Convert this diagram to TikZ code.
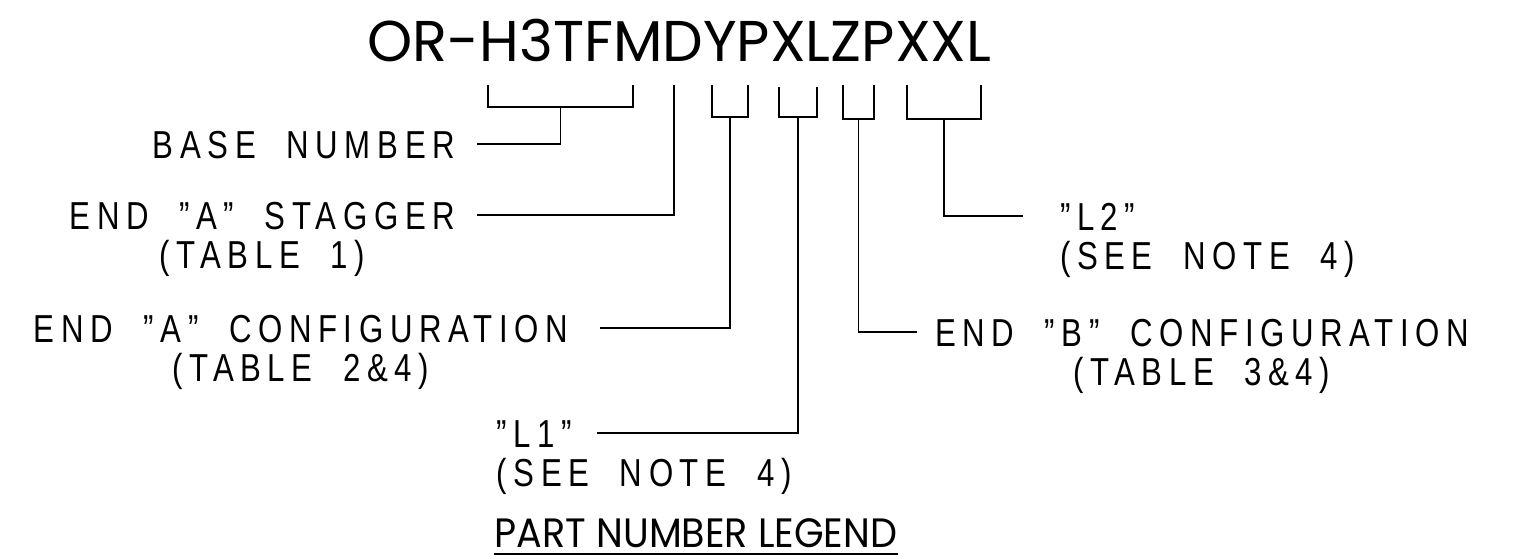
\documentclass[tikz,border=0pt]{standalone}
\usepackage{fontspec}
\setmainfont{Liberation Sans}
\newfontfamily\isofont[FakeStretch=0.8,LetterSpace=17,WordSpace=2]{Liberation Sans}
\newfontfamily\gothfont{Poppins}
\newfontfamily\gothnarrow[FakeStretch=0.93]{Poppins}
\usetikzlibrary{positioning}

\begin{document}
\begin{tikzpicture}[x=1pt, y=-1pt, line width=1.6pt]

% ---- Define Styles ----
\tikzset{
  lbltext/.style={
    font=\isofont\fontsize{39}{39}\selectfont, inner sep=0pt,
    text height=28pt, text depth=0pt
  },
  leftlbl/.style={lbltext, outer xsep=22pt, anchor=east},
  rightlbl/.style={lbltext, outer xsep=22pt, anchor=west},
  sublbl/.style={lbltext},
  bigtitle/.style={font=\gothfont\fontsize{57.5}{57.5}\selectfont, inner sep=0pt,
    text depth=0pt, anchor=base},
  legendtitle/.style={font=\gothnarrow\fontsize{41}{41}\selectfont, inner sep=0pt,
    text depth=0pt, anchor=base}
}

\useasboundingbox (0,0) rectangle (1521,559);

% =========================================================
% PART NUMBER (top)
% =========================================================
\node[bigtitle] (title) at (679.5, 62) {OR-H3TFMDYPXLZPXXL};

% =========================================================
% BRACKETS under the part number
% name / left x / right x / top y / bottom y
% =========================================================
\foreach \n/\l/\r/\t/\b in {b1/488/633/85/107, b2/712/748/85/117,
                            b3/779/817/87/117, b4/843/874/85/119,
                            b5/907/981/85/119}{
  \path coordinate (\n l) at (\l,\t)
        coordinate (\n r) at (\r,\t)
        coordinate (\n m) at ({(\l+\r)/2},\b);
  \draw (\n l) |- (\n m) -| (\n r);
}
% single tick (no bracket) for the stagger letter
\coordinate (b0) at (674,85);

% =========================================================
% LEFT LABELS
% =========================================================
\node[leftlbl] (base) at (477,144) {BASE NUMBER};

\node[leftlbl] (stag) at (477,215) {END ”A” STAGGER};
\node[sublbl, below=10pt of stag] (stagtab) {(TABLE 1)};

\node[leftlbl, outer xsep=32pt] (acfg) at (600,328) {END ”A” CONFIGURATION};
\node[sublbl, below=10pt of acfg] (acfgtab) {(TABLE 2\&4)};

\node[leftlbl, outer xsep=25pt] (lone) at (597,433) {”L1”};
\node[sublbl, outer xsep=25pt, below=10pt of lone.south west, anchor=north west] (lonenote) {(SEE NOTE 4)};

% =========================================================
% RIGHT LABELS
% =========================================================
\node[rightlbl, outer xsep=37pt] (ltwo) at (1023,216) {”L2”};
\node[sublbl, outer xsep=37pt, below=10pt of ltwo.south west, anchor=north west] (ltwonote) {(SEE NOTE 4)};

\node[rightlbl, outer xsep=18pt] (bcfg) at (917,332) {END ”B” CONFIGURATION};
\node[sublbl, below=10pt of bcfg] (bcfgtab) {(TABLE 3\&4)};

% =========================================================
% LEADERS: label -> bracket
% =========================================================
\draw (base.east) -| (b1m);
\draw (stag.east) -| (b0);
\draw (acfg.east) -| (b2m);
\draw (lone.east) -| (b3m);
\draw (bcfg.west) -| (b4m);
\draw (ltwo.west) -| (b5m);

% =========================================================
% CAPTION
% =========================================================
\node[legendtitle] (legend) at (696,547) {PART NUMBER LEGEND};
\draw[line width=2.6pt] ([yshift=-7pt]legend.base west) -- ([yshift=-7pt]legend.base east);

\end{tikzpicture}
\end{document}
